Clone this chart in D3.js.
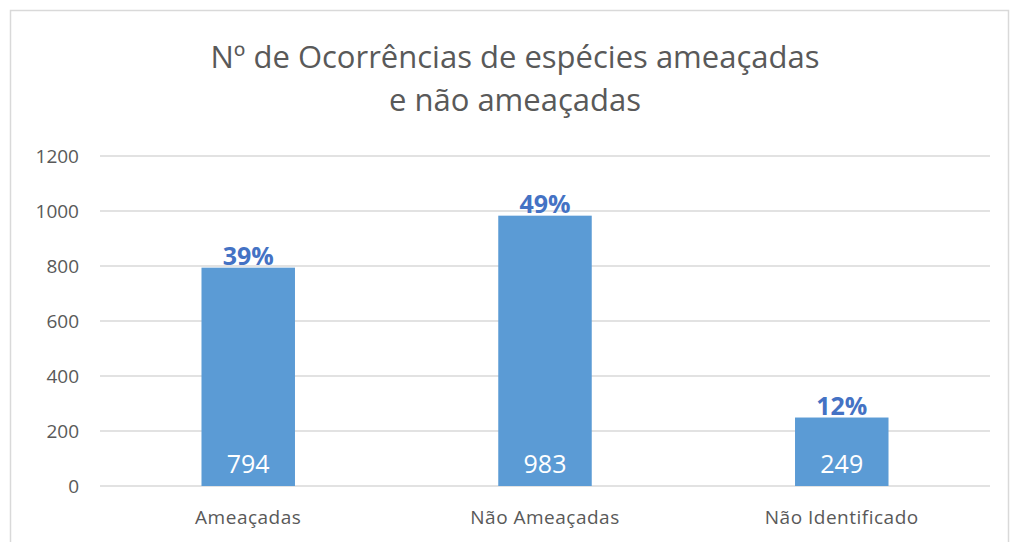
<!DOCTYPE html>
<html>
<head>
<meta charset="utf-8">
<script src="https://cdn.jsdelivr.net/npm/d3@7"></script>
<style>
  body { margin: 0; background: #fff; }
  svg text { font-family: "Segoe UI", "Open Sans", "DejaVu Sans", sans-serif; }
</style>
</head>
<body>
<div id="chart"></div>
<script>
// chart data
const categories = ["Ameaçadas", "Não Ameaçadas", "Não Identificado"];
const counts = [794, 983, 249];
const percents = ["39%", "49%", "12%"];
const yTicks = [0, 200, 400, 600, 800, 1000, 1200];

const width = 1015, height = 542;
const margin = { top: 156, right: 25, bottom: 56, left: 100 };

const svg = d3.select("#chart").append("svg")
    .attr("width", width)
    .attr("height", height);

// outer frame
svg.append("rect")
    .attr("x", 10.5).attr("y", 10.5)
    .attr("width", 998).attr("height", 540)
    .attr("fill", "#fff")
    .attr("stroke", "#d9d9d9")
    .attr("stroke-width", 1.5);

// title
const title = svg.append("text")
    .attr("text-anchor", "middle")
    .attr("fill", "#595959")
    .attr("font-size", 31);
title.append("tspan").attr("x", 515).attr("y", 68).text("Nº de Ocorrências de espécies ameaçadas");
title.append("tspan").attr("x", 515).attr("y", 111).text("e não ameaçadas");

const x = d3.scaleBand()
    .domain(categories)
    .range([margin.left, width - margin.right])
    .paddingInner(0.685)
    .paddingOuter(0.342);

const y = d3.scaleLinear()
    .domain([0, 1200])
    .range([height - margin.bottom, margin.top]);

// gridlines
svg.append("g")
    .selectAll("line")
    .data(yTicks)
    .enter().append("line")
    .attr("x1", margin.left)
    .attr("x2", width - margin.right)
    .attr("y1", d => y(d))
    .attr("y2", d => y(d))
    .attr("stroke", "#d9d9d9")
    .attr("stroke-width", 1.5);

// y labels
svg.append("g")
    .selectAll("text")
    .data(yTicks)
    .enter().append("text")
    .attr("x", 79)
    .attr("y", d => y(d))
    .attr("dy", "0.35em")
    .attr("text-anchor", "end")
    .attr("fill", "#595959")
    .attr("font-size", 19)
    .text(d => d);

// bars
svg.append("g")
    .selectAll("rect")
    .data(counts)
    .enter().append("rect")
    .attr("x", (d, i) => x(categories[i]))
    .attr("y", d => y(d))
    .attr("width", x.bandwidth())
    .attr("height", d => y(0) - y(d))
    .attr("fill", "#5b9bd5");

// value labels inside bars
svg.append("g")
    .selectAll("text")
    .data(counts)
    .enter().append("text")
    .attr("x", (d, i) => x(categories[i]) + x.bandwidth() / 2)
    .attr("y", y(0) - 13)
    .attr("text-anchor", "middle")
    .attr("fill", "#fff")
    .attr("font-size", 25)
    .text(d => d);

// percentage labels above bars
svg.append("g")
    .selectAll("text")
    .data(counts)
    .enter().append("text")
    .attr("x", (d, i) => x(categories[i]) + x.bandwidth() / 2)
    .attr("y", d => y(d) - 3)
    .attr("text-anchor", "middle")
    .attr("fill", "#4472c4")
    .attr("font-size", 25)
    .attr("font-weight", "bold")
    .text((d, i) => percents[i]);

// category labels
svg.append("g")
    .selectAll("text")
    .data(categories)
    .enter().append("text")
    .attr("x", d => x(d) + x.bandwidth() / 2)
    .attr("y", y(0) + 38)
    .attr("text-anchor", "middle")
    .attr("fill", "#595959")
    .attr("font-size", 19)
    .attr("letter-spacing", 0.5)
    .text(d => d);
</script>
</body>
</html>
